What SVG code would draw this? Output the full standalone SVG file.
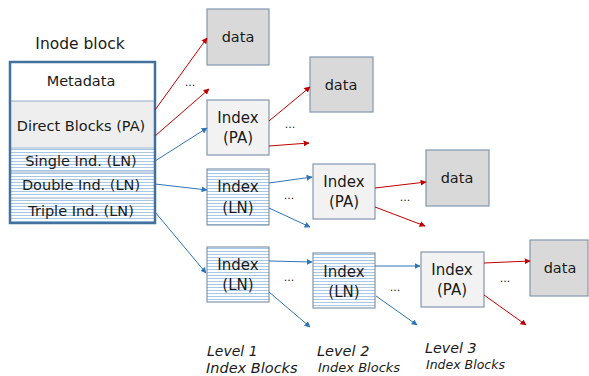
<svg xmlns="http://www.w3.org/2000/svg" width="589" height="376" viewBox="0 0 589 376">
<defs>
<pattern id="stripe" width="6" height="3" patternUnits="userSpaceOnUse">
<rect width="6" height="3" fill="#ffffff"/>
<rect y="2" width="6" height="1" fill="#a9c6e4"/>
</pattern>
<marker id="ar" viewBox="0 0 10 10" refX="9" refY="5" markerWidth="6" markerHeight="6" orient="auto" markerUnits="userSpaceOnUse"><path d="M0,0 L10,5 L0,10 z" fill="#c00000"/></marker>
<marker id="ab" viewBox="0 0 10 10" refX="9" refY="5" markerWidth="6" markerHeight="6" orient="auto" markerUnits="userSpaceOnUse"><path d="M0,0 L10,5 L0,10 z" fill="#2e75b6"/></marker>
</defs>
<style>
text{font-family:"DejaVu Sans","Noto Sans","Liberation Sans",sans-serif;fill:#1a1a1a;text-anchor:middle;dominant-baseline:central}
.t15{font-size:14.5px}
.t16{font-size:15px}
.lv{font-style:italic;text-anchor:start;dominant-baseline:auto}
.data{fill:#d9d9d9;stroke:#8497b0;stroke-width:1.2}
.pa{fill:#f2f2f2;stroke:#8497b0;stroke-width:1.2}
.ln{fill:url(#stripe);stroke:#8497b0;stroke-width:1.2}
.red{stroke:#c00000;stroke-width:1;fill:none;marker-end:url(#ar)}
.blue{stroke:#2e75b6;stroke-width:1;fill:none;marker-end:url(#ab)}
.dots{font-size:11px}
</style>
<rect width="589" height="376" fill="#ffffff"/>

<g id="inode">
<text style="font-size:15.5px" x="80" y="44">Inode block</text>
<rect x="10" y="62" width="145" height="39" fill="#ffffff"/>
<rect x="10" y="101" width="145" height="47" fill="#eeeeee"/>
<rect x="10" y="148" width="145" height="75" fill="url(#stripe)"/>
<line x1="10" y1="101" x2="155" y2="101" stroke="#8fa9c8" stroke-width="1"/>
<line x1="10" y1="148" x2="155" y2="148" stroke="#c6d4e4" stroke-width="2"/>
<line x1="10" y1="172" x2="155" y2="172" stroke="#c6d4e4" stroke-width="2"/>
<line x1="10" y1="198" x2="155" y2="198" stroke="#c6d4e4" stroke-width="2"/>
<rect x="10" y="62" width="145" height="161" fill="none" stroke="#41719c" stroke-width="2.5"/>
<text class="t15" x="81" y="81">Metadata</text>
<text class="t15" x="81" y="126">Direct Blocks (PA)</text>
<text class="t15" x="81" y="161">Single Ind. (LN)</text>
<text class="t15" x="81" y="185">Double Ind. (LN)</text>
<text class="t15" x="81" y="211">Triple Ind. (LN)</text>
</g>

<g id="data1"><rect class="data" x="207" y="9" width="62" height="56"/><text class="t15" x="238" y="37">data</text></g>
<g id="data2"><rect class="data" x="310" y="57" width="63" height="55"/><text class="t15" x="341" y="85">data</text></g>
<g id="data3"><rect class="data" x="426" y="150" width="63" height="56"/><text class="t15" x="457" y="178">data</text></g>
<g id="data4"><rect class="data" x="530" y="240" width="58" height="56"/><text class="t15" x="560" y="268">data</text></g>

<g id="l1pa"><rect class="pa" x="207" y="100" width="62" height="55"/><text class="t16" x="238" y="118">Index</text><text class="t16" x="238" y="138">(PA)</text></g>
<g id="l1ln_a"><rect class="ln" x="207" y="169" width="62" height="56"/><text class="t16" x="238" y="187">Index</text><text class="t16" x="238" y="208">(LN)</text></g>
<g id="l1ln_b"><rect class="ln" x="207" y="247" width="62" height="55"/><text class="t16" x="238" y="265">Index</text><text class="t16" x="238" y="285">(LN)</text></g>
<g id="l2pa"><rect class="pa" x="313" y="164" width="62" height="55"/><text class="t16" x="344" y="182">Index</text><text class="t16" x="344" y="202">(PA)</text></g>
<g id="l2ln"><rect class="ln" x="313" y="253" width="62" height="55"/><text class="t16" x="344" y="272">Index</text><text class="t16" x="344" y="292">(LN)</text></g>
<g id="l3pa"><rect class="pa" x="421" y="252" width="63" height="55"/><text class="t16" x="452" y="270">Index</text><text class="t16" x="452" y="290">(PA)</text></g>

<g id="connectors">
<line class="red" x1="155" y1="110" x2="207" y2="38"/>
<line class="red" x1="155" y1="136" x2="209" y2="89"/>
<line class="blue" x1="155" y1="161" x2="207" y2="128"/>
<line class="blue" x1="155" y1="184" x2="207" y2="190"/>
<line class="blue" x1="155" y1="212" x2="206" y2="273"/>
<line class="red" x1="269" y1="121" x2="310" y2="87"/>
<line class="red" x1="269" y1="146" x2="309" y2="143"/>
<line class="blue" x1="269" y1="183" x2="312" y2="177"/>
<line class="blue" x1="269" y1="208" x2="310" y2="227"/>
<line class="blue" x1="269" y1="261" x2="312" y2="262"/>
<line class="blue" x1="269" y1="292" x2="310" y2="327"/>
<line class="red" x1="375" y1="188" x2="426" y2="182"/>
<line class="red" x1="375" y1="207" x2="425" y2="226"/>
<line class="blue" x1="375" y1="266" x2="420" y2="266"/>
<line class="blue" x1="376" y1="296" x2="417" y2="325"/>
<line class="red" x1="484" y1="263" x2="530" y2="261"/>
<line class="red" x1="484" y1="295" x2="526" y2="325"/>
</g>

<g id="ellipses">
<text class="dots" x="190" y="82">...</text>
<text class="dots" x="290" y="124">...</text>
<text class="dots" x="289" y="195">...</text>
<text class="dots" x="289" y="277">...</text>
<text class="dots" x="405" y="197">...</text>
<text class="dots" x="395" y="287">...</text>
<text class="dots" x="505" y="278">...</text>
</g>

<g id="labels">
<text class="lv" style="font-size:14px" x="207" y="356">Level 1</text>
<text class="lv" style="font-size:14.5px" x="206" y="373">Index Blocks</text>
<text class="lv" style="font-size:14.5px" x="317" y="356">Level 2</text>
<text class="lv" style="font-size:13px" x="318" y="372">Index Blocks</text>
<text class="lv" style="font-size:14.3px" x="425" y="353">Level 3</text>
<text class="lv" style="font-size:12.5px" x="426" y="369">Index Blocks</text>
</g>
</svg>
